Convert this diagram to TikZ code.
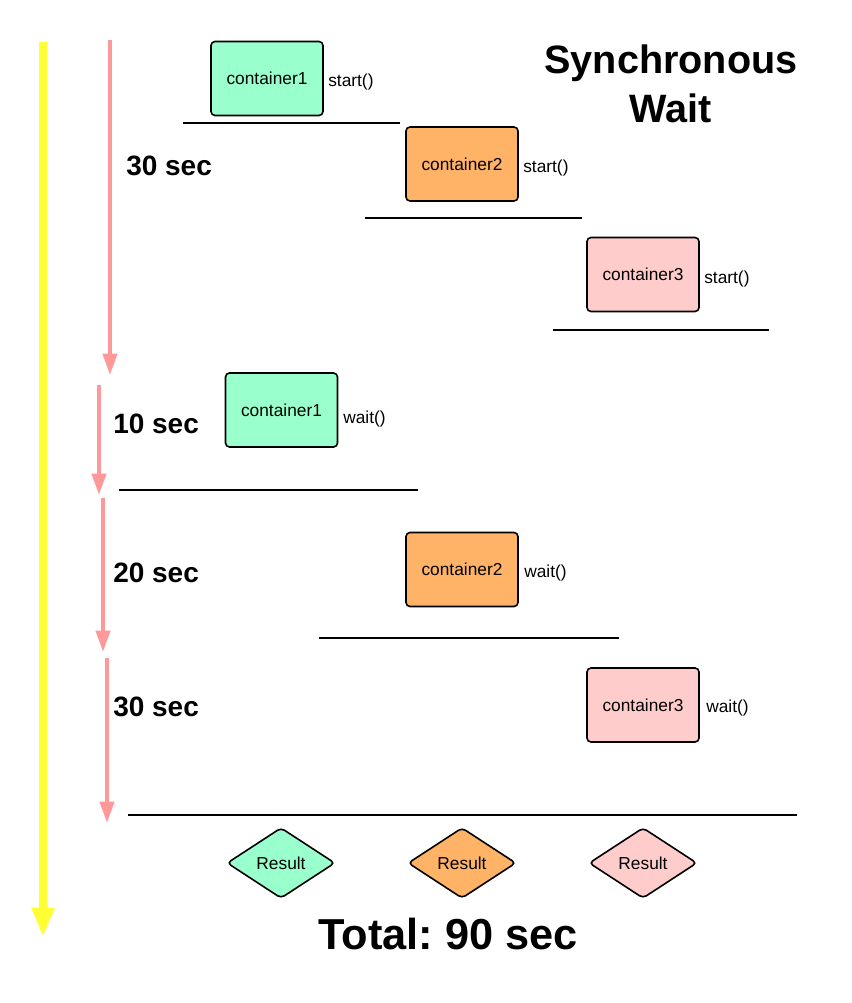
\documentclass[tikz,border=0pt]{standalone}
\usepackage{fontspec}
\setmainfont{Liberation Sans}
\usetikzlibrary{arrows.meta}
\usetikzlibrary{shapes.geometric}
\frenchspacing
\definecolor{greenfill}{HTML}{99FFCC}
\definecolor{orangefill}{HTML}{FFB366}
\definecolor{pinkfill}{HTML}{FFCCCC}
\definecolor{timepink}{HTML}{FF9999}
\definecolor{totalyellow}{HTML}{FFFF33}
\tikzset{
	boxstyle/.style={rectangle,rounded corners=3pt,draw=black,line width=1.2pt,minimum width=84pt,minimum height=55.5pt,font=\fontsize{13}{15}\selectfont},
	greenstyle/.style={boxstyle,fill=greenfill},
	orangestyle/.style={boxstyle,fill=orangefill},
	pinkstyle/.style={boxstyle,fill=pinkfill},
	resultstyle/.style={diamond,rounded corners=3pt,draw=black,line width=1.2pt,minimum width=81pt,minimum height=53pt,inner sep=0pt,font=\fontsize{13}{15}\selectfont},
	callstyle/.style={anchor=west,inner sep=0pt,font=\fontsize{13}{15}\selectfont},
	secstyle/.style={anchor=west,inner sep=0pt,font=\fontsize{21}{25}\selectfont\bfseries},
	barstyle/.style={draw=black,line width=1.5pt},
	timestyle/.style={draw=timepink,line width=3pt,-{Triangle[length=16pt,width=10.5pt]}}
}
\begin{document}
\begin{tikzpicture}[x=0.75pt,y=-0.75pt]
		\useasboundingbox (0,0) rectangle (851,1003);
		\draw[draw=totalyellow,line width=6pt,-{Triangle[length=22pt,width=16pt]}] (43,42) -- (43,937);
		\draw[timestyle] (110,40) -- (110,375);
		\draw[timestyle] (99,385) -- (99,495);
		\draw[timestyle] (103,498) -- (103,652);
		\draw[timestyle] (107,658) -- (107,823);
		\node[font=\fontsize{29.7}{37}\selectfont\bfseries,align=center] (title) at (671,84) {Synchronous\\Wait};
		\node[greenstyle] (c1start) at (267,78.5) {container1};
		\node[orangestyle] (c2start) at (462,164) {container2};
		\node[pinkstyle] (c3start) at (643,274.5) {container3};
		\node[callstyle] (s1) at (328,82) {start()};
		\node[callstyle] (s2) at (523,168) {start()};
		\node[callstyle] (s3) at (704,279) {start()};
		\draw[barstyle] (183,123) -- (400,123);
		\draw[barstyle] (365,218) -- (582,218);
		\draw[barstyle] (553,330) -- (769,330);
		\node[secstyle] (t1) at (126,166) {30 sec};
		\node[greenstyle] (c1wait) at (281.5,410) {container1};
		\node[orangestyle] (c2wait) at (462,569.5) {container2};
		\node[pinkstyle] (c3wait) at (643,705) {container3};
		\node[callstyle] (w1) at (343,419) {wait()};
		\node[callstyle] (w2) at (524,573) {wait()};
		\node[callstyle] (w3) at (706,708) {wait()};
		\node[secstyle] (t2) at (113,424) {10 sec};
		\node[secstyle] (t3) at (113,573) {20 sec};
		\node[secstyle] (t4) at (113,707) {30 sec};
		\draw[barstyle] (119,490) -- (418,490);
		\draw[barstyle] (319,638) -- (619,638);
		\draw[barstyle] (128,815) -- (797,815);
		\node[resultstyle,fill=greenfill] (r1) at (281,863) {Result};
		\node[resultstyle,fill=orangefill] (r2) at (462,863) {Result};
		\node[resultstyle,fill=pinkfill] (r3) at (643,863) {Result};
		\node[font=\fontsize{32.5}{38}\selectfont\bfseries] (total) at (448,934) {Total: 90 sec};
\end{tikzpicture}
\end{document}
